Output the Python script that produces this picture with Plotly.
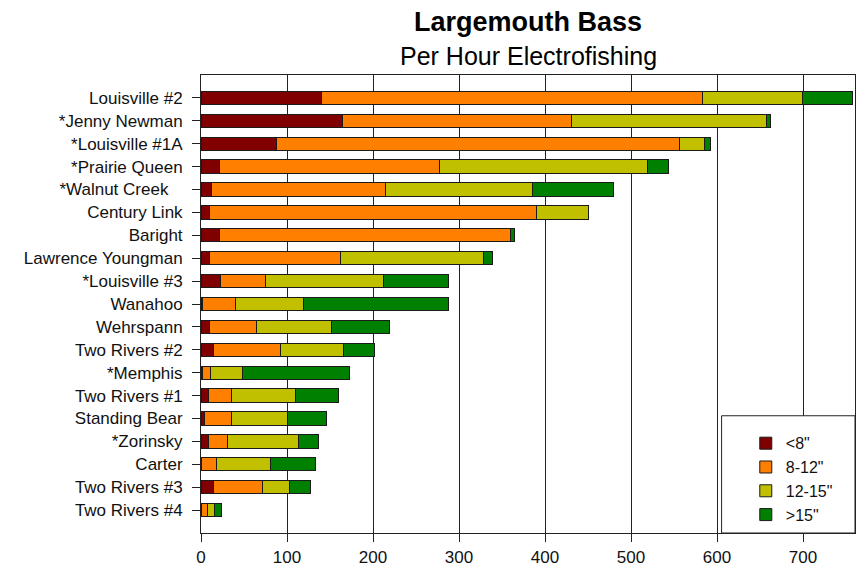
import plotly.graph_objects as go

lakes = ["Louisville #2", "*Jenny Newman", "*Louisville #1A", "*Prairie Queen",
         "*Walnut Creek\u00a0\u00a0\u00a0", "Century Link", "Baright", "Lawrence Youngman",
         "*Louisville #3", "Wanahoo", "Wehrspann", "Two Rivers #2", "*Memphis",
         "Two Rivers #1", "Standing Bear", "*Zorinsky", "Carter", "Two Rivers #3",
         "Two Rivers #4"]

under_8 = [140, 164, 88, 21, 12, 10, 21, 10, 23, 2, 10, 14, 2, 9, 4, 9, 0, 14, 0]
from_8_12 = [443, 267, 468, 256, 202, 380, 339, 152, 52, 38, 54, 78, 9, 27, 31, 22, 18, 58, 8]
from_12_15 = [116, 227, 29, 242, 171, 61, 0, 167, 137, 79, 88, 74, 37, 74, 66, 82, 63, 31, 8]
over_15 = [58, 4, 8, 25, 95, 0, 5, 10, 76, 169, 67, 36, 125, 50, 45, 24, 52, 24, 8]

series_names = ['<8"', '8-12"', '12-15"', '>15"']
series_vals = [under_8, from_8_12, from_12_15, over_15]
colors = ["#800000", "#FF8000", "#C0C000", "#008000"]

x_ticks = [0, 100, 200, 300, 400, 500, 600, 700]

FONT = "Arial, Liberation Sans, sans-serif"
INK = "#111111"

fig = go.Figure()
for name, vals, col in zip(series_names, series_vals, colors):
    fig.add_trace(go.Bar(
        y=lakes, x=vals, name=name, orientation="h",
        marker=dict(color=col, line=dict(color="#1a1a1a", width=1)),
    ))

fig.update_layout(
    width=857, height=568,
    barmode="stack", bargap=0.42,
    paper_bgcolor="white", plot_bgcolor="white",
    margin=dict(l=201, r=2, t=75, b=35),
    font=dict(family=FONT, size=17, color=INK),
    showlegend=True,
    legend=dict(
        x=0.833, xanchor="left", y=0.233, yanchor="top",
        bgcolor="rgba(0,0,0,0)", borderwidth=0,
        font=dict(size=16, color=INK), traceorder="normal",
    ),
    shapes=[dict(
        type="rect", xref="paper", yref="paper",
        x0=0.796, x1=1.0, y0=0.0, y1=0.256,
        fillcolor="white", line=dict(color="#222222", width=1), layer="above",
    )],
    annotations=[
        dict(text="<b>Largemouth Bass</b>", xref="paper", yref="paper",
             x=0.5, y=1.1164, xanchor="center", yanchor="middle", showarrow=False,
             font=dict(size=27, family=FONT, color="black")),
        dict(text="Per Hour Electrofishing", xref="paper", yref="paper",
             x=0.5, y=1.0424, xanchor="center", yanchor="middle", showarrow=False,
             font=dict(size=25, family=FONT, color="black")),
    ],
)

fig.update_xaxes(
    range=[0, 654 / 0.86], tickvals=x_ticks, ticktext=[str(v) for v in x_ticks],
    showgrid=True, gridcolor="#222222", gridwidth=1,
    showline=True, linecolor="#222222", linewidth=1, mirror=True,
    ticks="outside", ticklen=8, tickcolor="#222222", zeroline=False,
    tickfont=dict(size=17, color=INK), ticklabelstandoff=1, automargin=False,
)
fig.update_yaxes(
    type="category", categoryorder="array", categoryarray=lakes,
    range=[19, -1], showgrid=False,
    showline=True, linecolor="#222222", linewidth=1, mirror=True,
    ticks="outside", ticklen=8, tickcolor="#222222",
    tickfont=dict(size=17, color=INK), ticklabelstandoff=6, automargin=False,
)

fig.write_html(
    "out.html",
    config={"displayModeBar": False},
    post_script="document.body.style.margin='0';document.body.style.overflow='hidden';",
)
